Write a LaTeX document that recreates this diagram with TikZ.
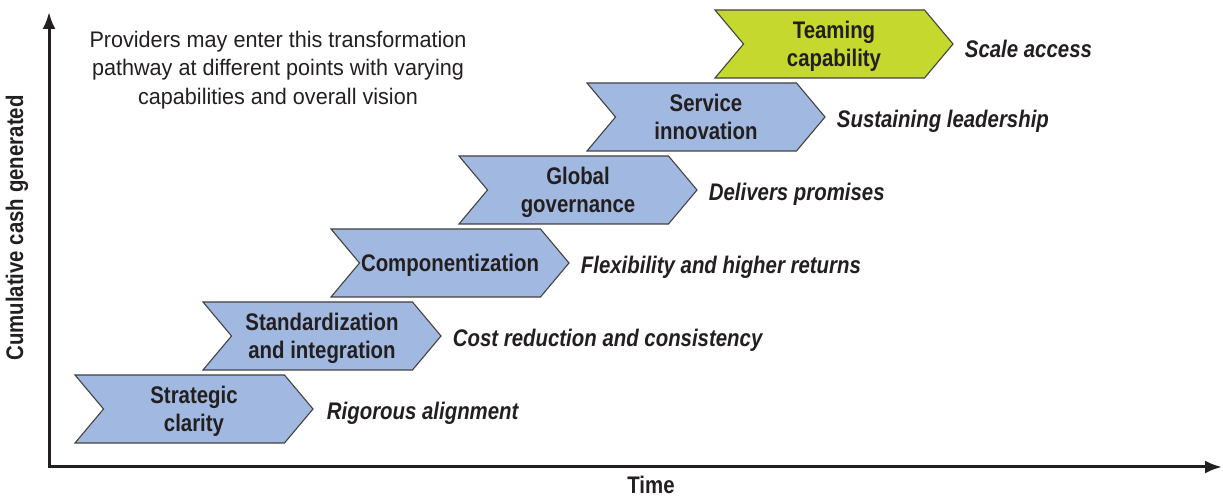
\documentclass[tikz,border=0pt]{standalone}
\usepackage{fontspec}
\setmainfont[FakeStretch=0.85]{Liberation Sans}
\newfontfamily\notefont[FakeStretch=0.96]{Liberation Sans}
\usetikzlibrary{shapes.symbols, positioning, arrows.meta}

\definecolor{stageblue}{RGB}{161,185,224}
\definecolor{stagegreen}{RGB}{196,216,46}
\definecolor{inkgray}{RGB}{35,31,32}

\tikzset{
  stage/.style={signal, signal from=west, signal to=east, signal pointer angle=100,
    draw=inkgray!85, line width=1.1pt, fill=stageblue,
    minimum width=238pt, minimum height=68pt, inner sep=0pt, align=center,
    text depth=-9pt, font=\fontsize{24}{28.5}\selectfont\bfseries, text=inkgray},
  outcome/.style={inner sep=0pt, yshift=-4.5pt, font=\fontsize{24}{28.5}\selectfont\bfseries\itshape, text=inkgray},
  note/.style={inner sep=0pt, align=center, font=\notefont\fontsize{22.5}{28.5}\selectfont, text=inkgray},
  axislabel/.style={inner sep=0pt, font=\fontsize{24}{28.5}\selectfont\bfseries, text=inkgray},
  axis/.style={line width=3pt, draw=inkgray, {Latex[length=17pt,width=13pt]}-{Latex[length=17pt,width=13pt]}},
}

\begin{document}
\begin{tikzpicture}[x=1pt, y=1pt]
\useasboundingbox (0,0) rectangle (1223,497);

%Declare axes.
\coordinate (origin) at (49,30);
\coordinate (ytop) at (49,485);
\coordinate (xend) at (1222,30);
\draw[axis] (ytop) -- (origin) -- (xend);
\node[axislabel, rotate=90] (ylabel) at (17,269) {Cumulative cash generated};
\node[axislabel] (xlabel) at (651,12) {Time};

%Declare stages.
\node[stage] (clarity) at (194,88) {Strategic\\clarity};
\node[stage] (integration) at (322,161) {Standardization\\and integration};
\node[stage] (components) at (450,234) {Componentization};
\node[stage] (governance) at (578,307) {Global\\governance};
\node[stage] (innovation) at (706,380) {Service\\innovation};
\node[stage, fill=stagegreen] (teaming) at (834,453) {Teaming\\capability};

%Outcomes of each stage.
\node[outcome, right=13pt of clarity] (alignment) {Rigorous alignment};
\node[outcome, right=11pt of integration] (consistency) {Cost reduction and consistency};
\node[outcome, right=11pt of components] (returns) {Flexibility and higher returns};
\node[outcome, right=11pt of governance] (promises) {Delivers promises};
\node[outcome, right=11pt of innovation] (leadership) {Sustaining leadership};
\node[outcome, right=11pt of teaming] (access) {Scale access};

\node[note] (entry) at (278,427) {Providers may enter this transformation\\pathway at different points with varying\\capabilities and overall vision};

\end{tikzpicture}
\end{document}
